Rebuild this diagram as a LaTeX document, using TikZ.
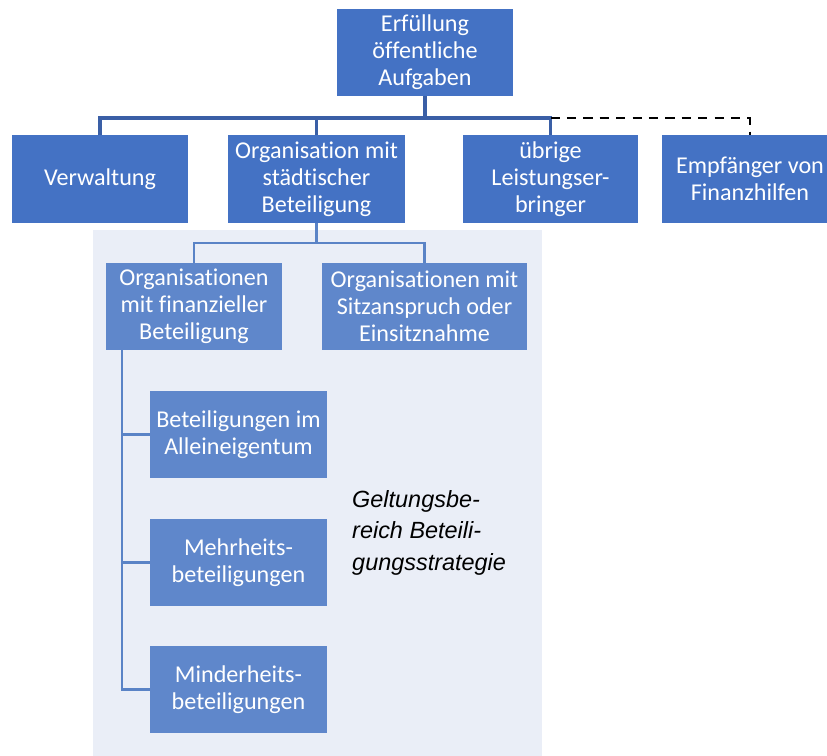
\documentclass[tikz,border=0pt]{standalone}
\usepackage{fontspec}
\setmainfont{Carlito}[Ligatures=NoCommon]
\newfontfamily\notefont{Liberation Sans}

\definecolor{topblue}{HTML}{4472C4}
\definecolor{subblue}{HTML}{5F87CB}
\definecolor{trunkblue}{HTML}{3A5FA6}
\definecolor{branchblue}{HTML}{5A83C6}
\definecolor{panelgray}{HTML}{EAEEF7}

\tikzset{
  box/.style={inner sep=0pt, align=center, text=white, minimum height=2.61cm,
    font=\fontsize{20.6}{23}\selectfont},
  topbox/.style={box, fill=topblue},
  subbox/.style={box, fill=subblue},
  trunk/.style={draw=trunkblue, line width=3pt},
  branch/.style={draw=branchblue, line width=2.1pt},
  dashlink/.style={draw=black, line width=2.3pt, dash pattern=on 8pt off 6pt},
  note/.style={inner sep=0pt, align=left, font=\notefont\itshape\fontsize{20}{27}\selectfont}
}

\begin{document}
\begin{tikzpicture}[x=0.03cm,y=-0.03cm]
\useasboundingbox (0,0) rectangle (827,756);

% panel for the scope
\fill[panelgray] (93,230) rectangle (542,760);

% first level
\node[topbox, minimum width=5.28cm] (task) at (425,52.5) {Erfüllung\\öffentliche\\Aufgaben};

\node[topbox, minimum width=5.28cm] (verw) at (100,179) {Verwaltung};
\node[topbox, minimum width=5.31cm] (org) at (316.5,179) {Organisation mit\\städtischer\\Beteiligung};
\node[topbox, minimum width=5.25cm] (uebrig) at (550.5,179) {übrige\\Leistungser-\\bringer};
\node[topbox, minimum width=5.28cm] (empf) at (750,179) {Empfänger von\\Finanzhilfen};

\coordinate (bus) at (425,118);
\draw[trunk] (task) -- (bus);
\draw[trunk] (verw.north) |- (bus) -| (uebrig.north);
\draw[trunk] (org.north) -- (org.north |- bus);
\draw[dashlink] (uebrig.north |- bus) -| (empf.north);

% second level
\node[subbox, minimum width=5.28cm] (fin) at (194,306.5) {Organisationen\\mit finanzieller\\Beteiligung};
\node[subbox, minimum width=6.15cm] (sitz) at (424.5,306.5) {Organisationen mit\\Sitzanspruch oder\\Einsitznahme};

\coordinate (split) at (316.5,243);
\draw[branch] (org.south) -- (split);
\draw[branch] (fin.north) |- (split) -| (sitz.north);

% third level
\node[subbox, minimum width=5.31cm] (allein) at (238.5,434.5) {Beteiligungen im\\Alleineigentum};
\node[subbox, minimum width=5.31cm] (mehr) at (238.5,562.5) {Mehrheits-\\beteiligungen};
\node[subbox, minimum width=5.31cm] (minder) at (238.5,689.5) {Minderheits-\\beteiligungen};

\coordinate (spine) at (122,350);
\draw[branch] (spine) |- (minder.west);
\draw[branch] (spine |- allein.west) -- (allein.west);
\draw[branch] (spine |- mehr.west) -- (mehr.west);

\node[note, anchor=north west] (scope) at (352,490) {Geltungsbe-\\reich Beteili-\\gungsstrategie};
\end{tikzpicture}
\end{document}
